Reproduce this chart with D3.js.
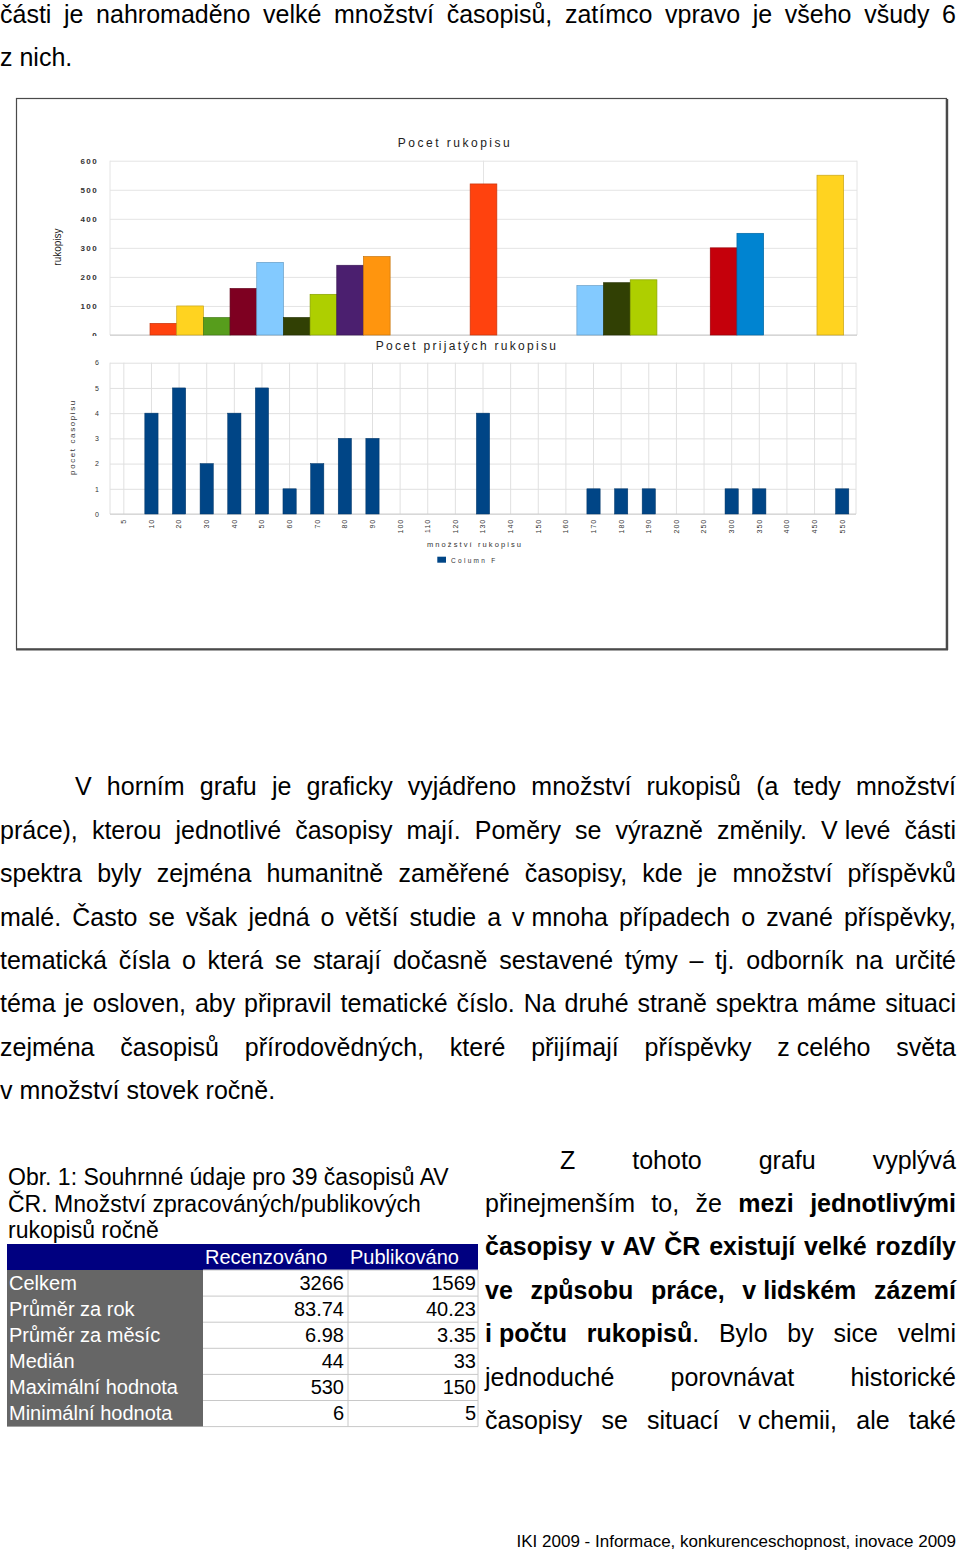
<!DOCTYPE html>
<html lang="cs">
<head>
<meta charset="utf-8">
<script src="https://cdn.jsdelivr.net/npm/d3@7"></script>
<style>
  html, body { margin: 0; padding: 0; background: #fff; }
  body { width: 960px; height: 1551px; position: relative; overflow: hidden;
         font-family: "Liberation Sans", Arial, sans-serif; color: #000; }
  #page { position: absolute; left: 0; top: 0; width: 960px; height: 1551px; }
  #page svg { position: absolute; left: 0; top: 0; }
  .line { position: absolute; font-size: 25px; line-height: 30px; height: 30px;
          text-align: justify; text-align-last: justify; white-space: normal; }
  .line.left { text-align: left; text-align-last: left; }
  .nb { display: inline-block; white-space: nowrap; }
</style>
</head>
<body>
<div id="page"></div>
<script>
// horní graf - pocet rukopisu (pozice sloupce = poradi v kategoriich grafu)
const topSlots = [1, 2, 3, 4, 5, 6, 7, 8, 9, 13, 17, 18, 19, 22, 23, 26];
const topValues = [40, 100, 60, 160, 250, 60, 140, 240, 270, 520, 170, 180, 190, 300, 350, 550];
const topColors = ["#ff420e", "#ffd320", "#579d1c", "#7e0021", "#83caff", "#314004", "#aecf00", "#4b1f6f",
                   "#ff950e", "#ff420e", "#83caff", "#314004", "#aecf00", "#c5000b", "#0084d1", "#ffd320"];
const topTicks = [0, 100, 200, 300, 400, 500, 600];

// dolní graf - pocet casopisu podle mnozstvi rukopisu
const bottomCategories = ["5", "10", "20", "30", "40", "50", "60", "70", "80", "90", "100", "110", "120", "130",
                          "140", "150", "160", "170", "180", "190", "200", "250", "300", "350", "400", "450", "550"];
const bottomValues = [0, 4, 5, 2, 4, 5, 1, 2, 3, 3, 0, 0, 0, 4, 0, 0, 0, 1, 1, 1, 0, 0, 1, 1, 0, 0, 1];
const bottomTicks = [0, 1, 2, 3, 4, 5, 6];

// tabulka
const tableHeader = ["", "Recenzováno", "Publikováno"];
const tableRows = ["Celkem", "Průměr za rok", "Průměr za měsíc", "Medián", "Maximální hodnota", "Minimální hodnota"];
const reviewed = ["3266", "83.74", "6.98", "44", "530", "6"];
const published = ["1569", "40.23", "3.35", "33", "150", "5"];

const captionLines = ["Obr. 1: Souhrnné údaje pro 39 časopisů AV", "ČR. Množství zpracováných/publikových", "rukopisů ročně"];

// texty stránky
const topLines = [
  "části je nahromaděno velké množství časopisů, zatímco vpravo je všeho všudy 6",
  "z nich."
];
const mainLines = [
  "V horním grafu je graficky vyjádřeno množství rukopisů (a tedy množství",
  "práce), kterou jednotlivé časopisy mají. Poměry se výrazně změnily. <span class='nb'>V&nbsp;levé</span> části",
  "spektra byly zejména humanitně zaměřené časopisy, kde je množství příspěvků",
  "malé. Často se však jedná o větší studie a <span class='nb'>v&nbsp;mnoha</span> případech o zvané příspěvky,",
  "tematická čísla o která se starají dočasně sestavené týmy – tj. odborník na určité",
  "téma je osloven, aby připravil tematické číslo. Na druhé straně spektra máme situaci",
  "zejména časopisů přírodovědných, které přijímají příspěvky <span class='nb'>z&nbsp;celého</span> světa",
  "v množství stovek ročně."
];
const sideLines = [
  "Z tohoto grafu vyplývá",
  "přinejmenším to, že <b>mezi jednotlivými</b>",
  "<b>časopisy v AV ČR existují velké rozdíly</b>",
  "<b>ve způsobu práce, <span class='nb'>v&nbsp;lidském</span> zázemí</b>",
  "<b><span class='nb'>i&nbsp;počtu</span> rukopisů</b>. Bylo by sice velmi",
  "jednoduché porovnávat historické",
  "časopisy se situací <span class='nb'>v&nbsp;chemii,</span> ale také"
];
const footerText = "IKI 2009 - Informace, konkurenceschopnost, inovace 2009";

const page = d3.select("#page");
const FONT = "'Liberation Sans', Arial, sans-serif";

// radky textu - baseline -> top (line-height 30px, 25px pismo)
const addLines = (lines, left0, left, width, base0, step, lastLeft) => {
    lines.forEach((t, i) => {
        const isLast = i === lines.length - 1;
        page.append("div")
            .attr("class", "line" + (isLast && lastLeft ? " left" : ""))
            .style("left", (i === 0 ? left0 : left) + "px")
            .style("width", (i === 0 ? width - (left0 - left) : width) + "px")
            .style("top", (base0 + i * step - 23.7) + "px")
            .html(t);
    });
}
addLines(topLines, 0, 0, 956, 22.7, 43.4, true);
addLines(mainLines, 75, 0, 956, 795, 43.4, true);
addLines(sideLines, 560, 485, 471, 1168.3, 43.4, false);

const svg = page.append("svg")
    .attr("width", 960)
    .attr("height", 1551)
    .style("font-family", FONT);

// ramecek grafu
svg.append("rect")
    .attr("x", 16.5).attr("y", 98.5)
    .attr("width", 930).attr("height", 550.5)
    .attr("fill", "#fff").attr("stroke", "#4a4a4a").attr("stroke-width", 1.2);
svg.append("line").attr("x1", 947).attr("x2", 947).attr("y1", 99).attr("y2", 650)
    .attr("stroke", "#4a4a4a").attr("stroke-width", 2.4);
svg.append("line").attr("x1", 16).attr("x2", 948).attr("y1", 649.5).attr("y2", 649.5)
    .attr("stroke", "#4a4a4a").attr("stroke-width", 2);

// ---------- horní graf ----------
const topLeft = 110, topRight = 857;
const xTop = d3.scaleLinear().domain([-0.5, 27.5]).range([topLeft, topRight]);
const yTop = d3.scaleLinear().domain([0, 600]).range([335, 160.7]);
const gTop = svg.append("g");

gTop.append("g")
    .attr("transform", "translate(" + topLeft + ",0)")
    .call(d3.axisLeft(yTop).tickValues(topTicks).tickSize(-(topRight - topLeft)).tickPadding(12))
    .call(g => g.select(".domain").remove())
    .call(g => g.selectAll(".tick line").attr("stroke", "#e4e4e4"))
    .call(g => g.selectAll(".tick text")
        .attr("font-family", FONT).attr("font-size", 8).attr("font-weight", "bold")
        .attr("letter-spacing", 1.4).attr("fill", "#333"));

// hranice kategorii
gTop.selectAll("line.cat")
    .data(d3.range(-0.5, 28, 14))
    .join("line")
    .attr("class", "cat")
    .attr("x1", d => xTop(d)).attr("x2", d => xTop(d))
    .attr("y1", yTop(600)).attr("y2", yTop(0))
    .attr("stroke", "#e4e4e4");

gTop.append("line")
    .attr("x1", topLeft).attr("x2", topRight)
    .attr("y1", yTop(0)).attr("y2", yTop(0))
    .attr("stroke", "#c8c8c8");

gTop.selectAll("rect.bar")
    .data(topValues)
    .join("rect")
    .attr("class", "bar")
    .attr("x", (d, i) => xTop(topSlots[i]))
    .attr("width", xTop(1) - xTop(0))
    .attr("y", d => yTop(d))
    .attr("height", d => yTop(0) - yTop(d))
    .attr("fill", (d, i) => topColors[i])
    .attr("stroke", (d, i) => d3.color(topColors[i]).darker(0.7))
    .attr("stroke-width", 0.7);

gTop.append("text")
    .attr("x", 455).attr("y", 147)
    .attr("text-anchor", "middle")
    .attr("font-size", 12).attr("letter-spacing", 2.5).attr("fill", "#222")
    .text("Pocet rukopisu");

gTop.append("text")
    .attr("transform", "translate(61,247) rotate(-90)")
    .attr("text-anchor", "middle")
    .attr("font-size", 10).attr("fill", "#222")
    .text("rukopisy");

// ---------- dolní graf ----------
// bílé pozadí dolního grafu prekryva spodek popisku "0"
svg.append("rect")
    .attr("x", 20).attr("y", 336).attr("width", 920).attr("height", 300)
    .attr("fill", "#fff");

const botLeft = 110, botRight = 856;
const xBot = d3.scaleBand().domain(bottomCategories).range([botLeft, botRight]);
const yBot = d3.scaleLinear().domain([0, 6]).range([514, 362.7]);
const gBot = svg.append("g");

gBot.append("g")
    .attr("transform", "translate(" + botLeft + ",0)")
    .call(d3.axisLeft(yBot).tickValues(bottomTicks).tickFormat(d3.format("d"))
        .tickSize(-(botRight - botLeft)).tickPadding(11))
    .call(g => g.select(".domain").remove())
    .call(g => g.selectAll(".tick line").attr("stroke", "#e0e0e0"))
    .call(g => g.selectAll(".tick text")
        .attr("font-family", FONT).attr("font-size", 7).attr("fill", "#333"));

const bw = xBot.bandwidth();
gBot.selectAll("line.vgrid")
    .data(bottomCategories)
    .join("line")
    .attr("class", "vgrid")
    .attr("x1", d => xBot(d) + bw / 2).attr("x2", d => xBot(d) + bw / 2)
    .attr("y1", yBot(6)).attr("y2", yBot(0))
    .attr("stroke", "#e0e0e0");
gBot.selectAll("line.edge")
    .data([botLeft, botRight])
    .join("line")
    .attr("class", "edge")
    .attr("x1", d => d).attr("x2", d => d)
    .attr("y1", yBot(6)).attr("y2", yBot(0))
    .attr("stroke", "#e0e0e0");
gBot.append("line")
    .attr("x1", botLeft).attr("x2", botRight)
    .attr("y1", yBot(0)).attr("y2", yBot(0))
    .attr("stroke", "#cfcfcf");

const barW = bw * 0.48;
gBot.selectAll("rect.bar")
    .data(bottomValues)
    .join("rect")
    .attr("class", "bar")
    .attr("x", (d, i) => xBot(bottomCategories[i]) + bw / 2 - barW / 2)
    .attr("width", barW)
    .attr("y", d => yBot(d))
    .attr("height", d => yBot(0) - yBot(d))
    .attr("fill", "#004586")
    .attr("stroke", "#003566")
    .attr("stroke-width", 0.5);

// popisky osy x
gBot.selectAll("text.xlab")
    .data(bottomCategories)
    .join("text")
    .attr("class", "xlab")
    .attr("transform", d => "translate(" + (xBot(d) + bw / 2 + 2.4) + ",519) rotate(-90)")
    .attr("text-anchor", "end")
    .attr("font-size", 7).attr("letter-spacing", 0.9).attr("fill", "#333")
    .text(d => d);

gBot.append("text")
    .attr("x", 467).attr("y", 350)
    .attr("text-anchor", "middle")
    .attr("font-size", 12).attr("letter-spacing", 2.3).attr("fill", "#222")
    .text("Pocet prijatých rukopisu");

gBot.append("text")
    .attr("transform", "translate(74.5,437) rotate(-90)")
    .attr("text-anchor", "middle")
    .attr("font-size", 8).attr("letter-spacing", 1.6).attr("fill", "#333")
    .text("pocet casopisu");

gBot.append("text")
    .attr("x", 475).attr("y", 547)
    .attr("text-anchor", "middle")
    .attr("font-size", 7.5).attr("letter-spacing", 2.1).attr("fill", "#333")
    .text("množství rukopisu");

// legenda
gBot.append("rect")
    .attr("x", 437.3).attr("y", 556.7).attr("width", 8.7).attr("height", 6)
    .attr("fill", "#004586");
gBot.append("text")
    .attr("x", 451).attr("y", 563)
    .attr("font-size", 6.5).attr("letter-spacing", 2.3).attr("fill", "#333")
    .text("Column F");

// ---------- popisek a tabulka ----------
svg.selectAll("text.caption")
    .data(captionLines)
    .join("text")
    .attr("class", "caption")
    .attr("x", 8)
    .attr("y", (d, i) => 1185 + i * 26.5)
    .attr("font-size", 23)
    .text(d => d);

const colX = [7, 203, 348, 478];
const tTop = 1244, headH = 26, rowH = 26.1;
const gTab = svg.append("g");

gTab.append("rect")
    .attr("x", colX[0]).attr("y", tTop)
    .attr("width", colX[3] - colX[0]).attr("height", headH)
    .attr("fill", "#000080");
gTab.selectAll("text.head")
    .data(tableHeader.slice(1))
    .join("text")
    .attr("class", "head")
    .attr("x", (d, i) => colX[i + 1] + 2)
    .attr("y", tTop + 20)
    .attr("font-size", 20).attr("fill", "#fff")
    .text(d => d);

const rowsY = tableRows.map((d, i) => tTop + headH + i * rowH);
gTab.append("rect")
    .attr("x", colX[0]).attr("y", tTop + headH)
    .attr("width", colX[1] - colX[0]).attr("height", rowH * tableRows.length)
    .attr("fill", "#666666");
gTab.selectAll("text.rowlab")
    .data(tableRows)
    .join("text")
    .attr("class", "rowlab")
    .attr("x", colX[0] + 2)
    .attr("y", (d, i) => rowsY[i] + 19.5)
    .attr("font-size", 20).attr("fill", "#fff")
    .text(d => d);

// mrizka cisel
gTab.selectAll("line.hrow")
    .data(d3.range(tableRows.length + 1))
    .join("line")
    .attr("class", "hrow")
    .attr("x1", colX[1]).attr("x2", colX[3])
    .attr("y1", i => tTop + headH + i * rowH).attr("y2", i => tTop + headH + i * rowH)
    .attr("stroke", "#c8c8c8");
gTab.selectAll("line.vcol")
    .data([colX[2], colX[3]])
    .join("line")
    .attr("class", "vcol")
    .attr("x1", d => d).attr("x2", d => d)
    .attr("y1", tTop + headH).attr("y2", tTop + headH + rowH * tableRows.length)
    .attr("stroke", "#c8c8c8");

gTab.selectAll("text.rev")
    .data(reviewed)
    .join("text")
    .attr("class", "rev")
    .attr("x", colX[2] - 4)
    .attr("y", (d, i) => rowsY[i] + 19.5)
    .attr("text-anchor", "end")
    .attr("font-size", 20)
    .text(d => d);
gTab.selectAll("text.pub")
    .data(published)
    .join("text")
    .attr("class", "pub")
    .attr("x", colX[3] - 2)
    .attr("y", (d, i) => rowsY[i] + 19.5)
    .attr("text-anchor", "end")
    .attr("font-size", 20)
    .text(d => d);

// paticka
svg.append("text")
    .attr("x", 956).attr("y", 1547)
    .attr("text-anchor", "end")
    .attr("font-size", 17)
    .text(footerText);
</script>
</body>
</html>
